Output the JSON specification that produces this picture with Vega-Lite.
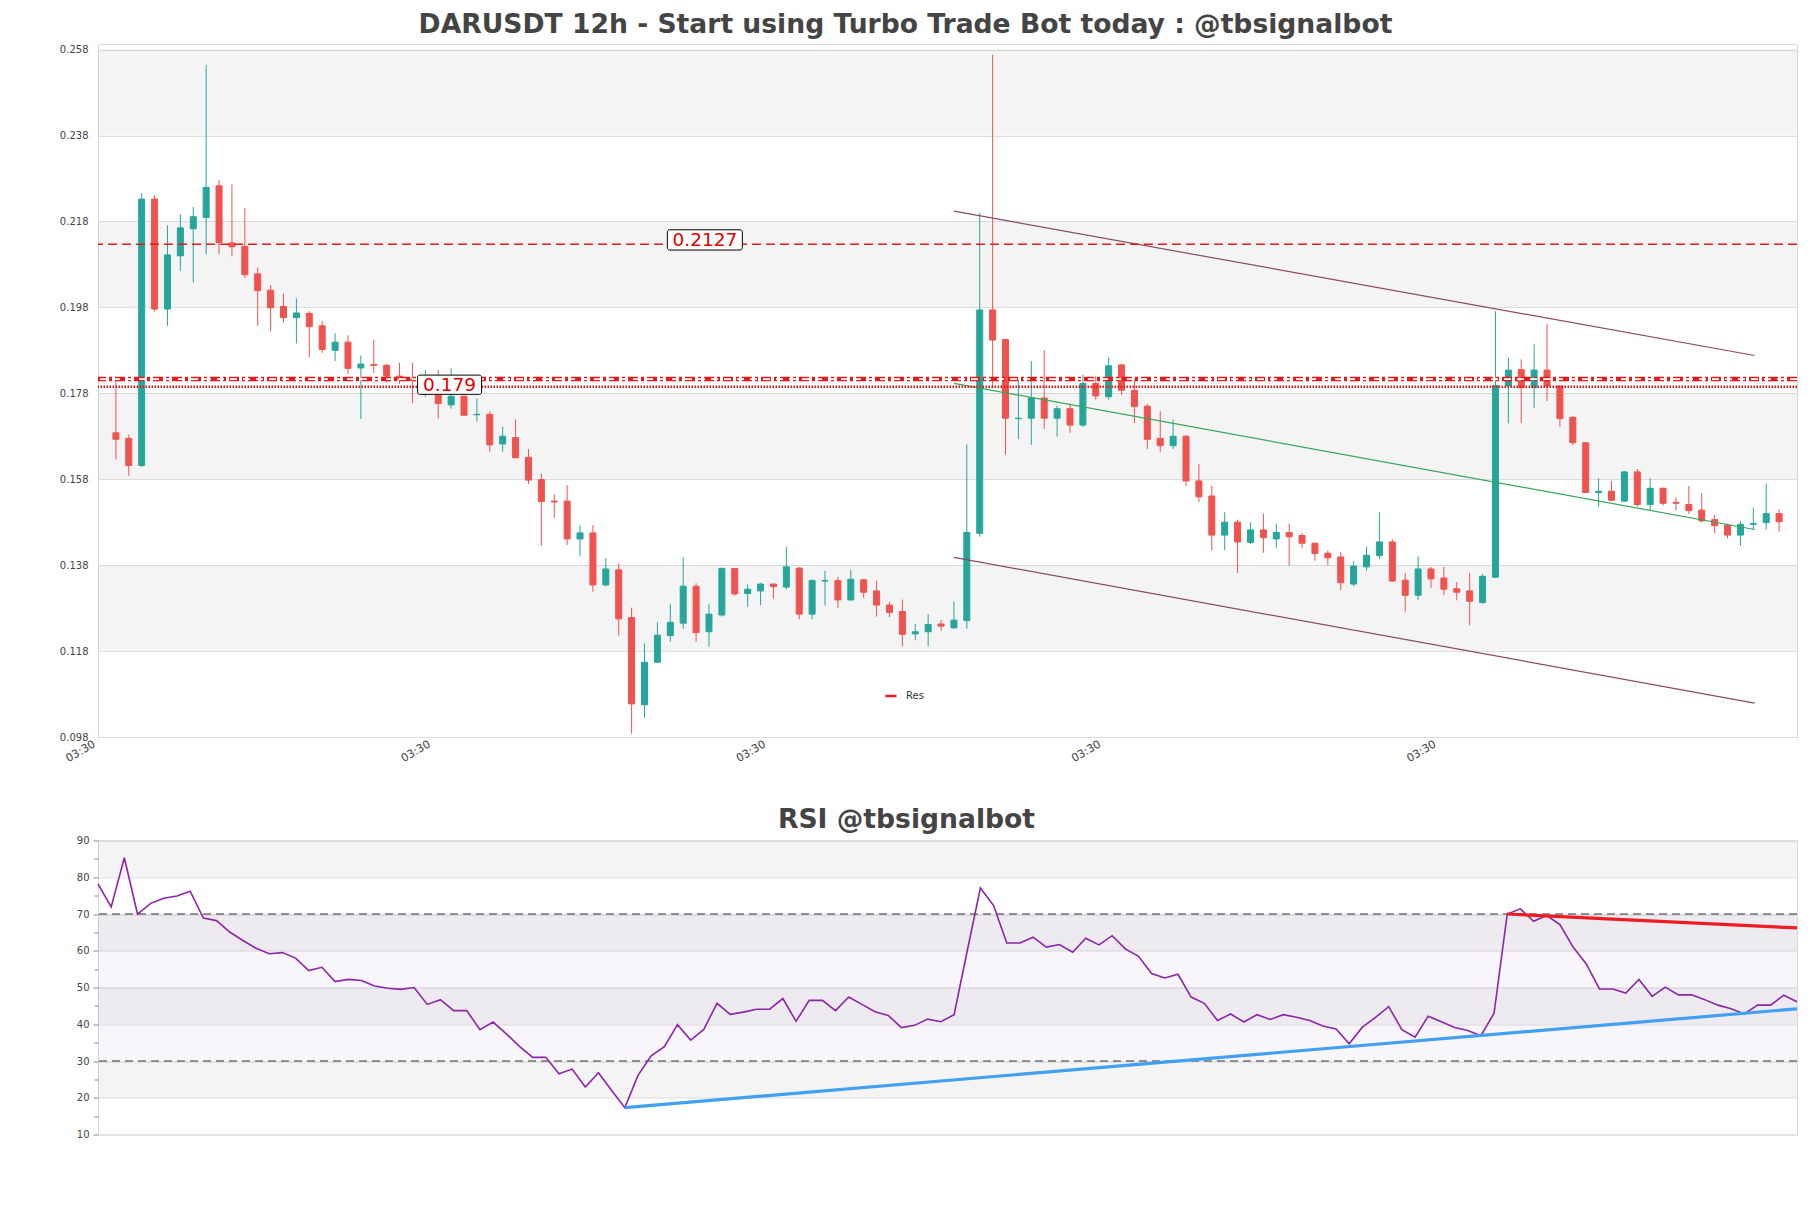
{
  "$schema": "https://vega.github.io/schema/vega-lite/v6.json",
  "padding": {"left": 58, "top": 11, "right": 15, "bottom": 10},
  "background": "white",
  "title": {"text": "DARUSDT 12h - Start using Turbo Trade Bot today : @tbsignalbot", "font": "DejaVu Sans", "fontSize": 26.6, "fontWeight": "bold", "color": "#444444", "anchor": "middle", "frame": "group", "offset": 5.4, "dx": -42},
  "config": {
    "view": {"stroke": "#d9d9d9", "strokeWidth": 1},
    "axis": {"labelFont": "DejaVu Sans", "labelColor": "#444444", "labelFontSize": 10, "domain": false, "gridColor": "#dddddd", "gridWidth": 1},
    "legend": {"labelFont": "DejaVu Sans"}
  },
  "spacing": 41.5,
  "datasets": {
    "candles": [
      {"i":0,"o":0.1688,"h":0.1812,"l":0.1626,"c":0.1673},
      {"i":1,"o":0.1675,"h":0.1684,"l":0.1588,"c":0.1612},
      {"i":2,"o":0.1612,"h":0.2246,"l":0.1608,"c":0.2232},
      {"i":3,"o":0.2232,"h":0.2241,"l":0.1970,"c":0.1976},
      {"i":4,"o":0.1976,"h":0.2171,"l":0.1937,"c":0.2102},
      {"i":5,"o":0.2100,"h":0.2197,"l":0.2065,"c":0.2165},
      {"i":6,"o":0.2163,"h":0.2214,"l":0.2038,"c":0.2191},
      {"i":7,"o":0.2189,"h":0.2544,"l":0.2104,"c":0.2259},
      {"i":8,"o":0.2263,"h":0.2276,"l":0.2104,"c":0.2131},
      {"i":9,"o":0.2130,"h":0.2266,"l":0.2099,"c":0.2121},
      {"i":10,"o":0.2122,"h":0.2211,"l":0.2049,"c":0.2056},
      {"i":11,"o":0.2058,"h":0.2073,"l":0.1937,"c":0.2019},
      {"i":12,"o":0.2020,"h":0.2032,"l":0.1924,"c":0.1979},
      {"i":13,"o":0.1982,"h":0.2012,"l":0.1945,"c":0.1956},
      {"i":14,"o":0.1956,"h":0.2001,"l":0.1896,"c":0.1967},
      {"i":15,"o":0.1966,"h":0.1971,"l":0.1864,"c":0.1935},
      {"i":16,"o":0.1937,"h":0.1948,"l":0.1874,"c":0.1882},
      {"i":17,"o":0.1880,"h":0.1920,"l":0.1855,"c":0.1899},
      {"i":18,"o":0.1899,"h":0.1915,"l":0.1825,"c":0.1838},
      {"i":19,"o":0.1839,"h":0.1868,"l":0.1720,"c":0.1848},
      {"i":20,"o":0.1847,"h":0.1905,"l":0.1827,"c":0.1845},
      {"i":21,"o":0.1845,"h":0.1848,"l":0.1805,"c":0.1820},
      {"i":22,"o":0.1820,"h":0.1851,"l":0.1802,"c":0.1813},
      {"i":23,"o":0.1813,"h":0.1851,"l":0.1757,"c":0.1810},
      {"i":24,"o":0.1800,"h":0.1834,"l":0.1772,"c":0.1812},
      {"i":25,"o":0.1776,"h":0.1834,"l":0.1721,"c":0.1756},
      {"i":26,"o":0.1753,"h":0.1838,"l":0.1744,"c":0.1773},
      {"i":27,"o":0.1773,"h":0.1775,"l":0.1728,"c":0.1729},
      {"i":28,"o":0.1730,"h":0.1768,"l":0.1714,"c":0.1731},
      {"i":29,"o":0.1731,"h":0.1738,"l":0.1644,"c":0.1660},
      {"i":30,"o":0.1662,"h":0.1702,"l":0.1644,"c":0.1680},
      {"i":31,"o":0.1677,"h":0.1719,"l":0.1629,"c":0.1630},
      {"i":32,"o":0.1631,"h":0.1650,"l":0.1569,"c":0.1578},
      {"i":33,"o":0.1579,"h":0.1593,"l":0.1425,"c":0.1528},
      {"i":34,"o":0.1529,"h":0.1545,"l":0.1490,"c":0.1527},
      {"i":35,"o":0.1529,"h":0.1566,"l":0.1427,"c":0.1441},
      {"i":36,"o":0.1441,"h":0.1473,"l":0.1402,"c":0.1455},
      {"i":37,"o":0.1455,"h":0.1473,"l":0.1318,"c":0.1334},
      {"i":38,"o":0.1334,"h":0.1396,"l":0.1330,"c":0.1371},
      {"i":39,"o":0.1369,"h":0.1384,"l":0.1216,"c":0.1255},
      {"i":40,"o":0.1258,"h":0.1281,"l":0.0988,"c":0.1057},
      {"i":41,"o":0.1055,"h":0.1198,"l":0.1025,"c":0.1154},
      {"i":42,"o":0.1154,"h":0.1247,"l":0.1153,"c":0.1217},
      {"i":43,"o":0.1216,"h":0.1289,"l":0.1202,"c":0.1247},
      {"i":44,"o":0.1245,"h":0.1398,"l":0.1232,"c":0.1331},
      {"i":45,"o":0.1331,"h":0.1338,"l":0.1202,"c":0.1223},
      {"i":46,"o":0.1225,"h":0.1290,"l":0.1190,"c":0.1266},
      {"i":47,"o":0.1264,"h":0.1375,"l":0.1260,"c":0.1372},
      {"i":48,"o":0.1372,"h":0.1373,"l":0.1309,"c":0.1313},
      {"i":49,"o":0.1314,"h":0.1335,"l":0.1283,"c":0.1324},
      {"i":50,"o":0.1320,"h":0.1339,"l":0.1287,"c":0.1336},
      {"i":51,"o":0.1336,"h":0.1337,"l":0.1302,"c":0.1330},
      {"i":52,"o":0.1329,"h":0.1423,"l":0.1324,"c":0.1376},
      {"i":53,"o":0.1373,"h":0.1375,"l":0.1254,"c":0.1266},
      {"i":54,"o":0.1266,"h":0.1347,"l":0.1254,"c":0.1344},
      {"i":55,"o":0.1343,"h":0.1367,"l":0.1286,"c":0.1344},
      {"i":56,"o":0.1344,"h":0.1353,"l":0.1281,"c":0.1299},
      {"i":57,"o":0.1299,"h":0.1369,"l":0.1297,"c":0.1347},
      {"i":58,"o":0.1346,"h":0.1347,"l":0.1304,"c":0.1317},
      {"i":59,"o":0.1320,"h":0.1344,"l":0.1260,"c":0.1287},
      {"i":60,"o":0.1287,"h":0.1295,"l":0.1259,"c":0.1270},
      {"i":61,"o":0.1272,"h":0.1300,"l":0.1191,"c":0.1219},
      {"i":62,"o":0.1220,"h":0.1243,"l":0.1205,"c":0.1225},
      {"i":63,"o":0.1225,"h":0.1266,"l":0.1191,"c":0.1242},
      {"i":64,"o":0.1243,"h":0.1252,"l":0.1227,"c":0.1238},
      {"i":65,"o":0.1234,"h":0.1295,"l":0.1232,"c":0.1252},
      {"i":66,"o":0.1251,"h":0.1661,"l":0.1232,"c":0.1456},
      {"i":67,"o":0.1454,"h":0.2200,"l":0.1446,"c":0.1974},
      {"i":68,"o":0.1974,"h":0.2568,"l":0.1792,"c":0.1904},
      {"i":69,"o":0.1905,"h":0.1906,"l":0.1637,"c":0.1722},
      {"i":70,"o":0.1721,"h":0.1812,"l":0.1673,"c":0.1722},
      {"i":71,"o":0.1722,"h":0.1855,"l":0.1660,"c":0.1769},
      {"i":72,"o":0.1769,"h":0.1880,"l":0.1697,"c":0.1722},
      {"i":73,"o":0.1722,"h":0.1751,"l":0.1679,"c":0.1744},
      {"i":74,"o":0.1744,"h":0.1756,"l":0.1688,"c":0.1706},
      {"i":75,"o":0.1706,"h":0.1823,"l":0.1702,"c":0.1803},
      {"i":76,"o":0.1803,"h":0.1821,"l":0.1765,"c":0.1774},
      {"i":77,"o":0.1772,"h":0.1864,"l":0.1765,"c":0.1844},
      {"i":78,"o":0.1846,"h":0.1848,"l":0.1776,"c":0.1787},
      {"i":79,"o":0.1787,"h":0.1812,"l":0.1711,"c":0.1749},
      {"i":80,"o":0.1750,"h":0.1755,"l":0.1650,"c":0.1673},
      {"i":81,"o":0.1675,"h":0.1738,"l":0.1644,"c":0.1658},
      {"i":82,"o":0.1658,"h":0.1719,"l":0.1650,"c":0.1680},
      {"i":83,"o":0.1680,"h":0.1683,"l":0.1564,"c":0.1576},
      {"i":84,"o":0.1576,"h":0.1615,"l":0.1527,"c":0.1539},
      {"i":85,"o":0.1541,"h":0.1565,"l":0.1414,"c":0.1450},
      {"i":86,"o":0.1450,"h":0.1503,"l":0.1415,"c":0.1480},
      {"i":87,"o":0.1480,"h":0.1486,"l":0.1362,"c":0.1434},
      {"i":88,"o":0.1433,"h":0.1480,"l":0.1429,"c":0.1462},
      {"i":89,"o":0.1462,"h":0.1500,"l":0.1409,"c":0.1444},
      {"i":90,"o":0.1441,"h":0.1476,"l":0.1420,"c":0.1456},
      {"i":91,"o":0.1456,"h":0.1477,"l":0.1379,"c":0.1446},
      {"i":92,"o":0.1449,"h":0.1455,"l":0.1420,"c":0.1431},
      {"i":93,"o":0.1431,"h":0.1433,"l":0.1390,"c":0.1407},
      {"i":94,"o":0.1408,"h":0.1414,"l":0.1380,"c":0.1397},
      {"i":95,"o":0.1399,"h":0.1410,"l":0.1322,"c":0.1339},
      {"i":96,"o":0.1336,"h":0.1389,"l":0.1331,"c":0.1378},
      {"i":97,"o":0.1376,"h":0.1423,"l":0.1367,"c":0.1403},
      {"i":98,"o":0.1402,"h":0.1503,"l":0.1394,"c":0.1434},
      {"i":99,"o":0.1434,"h":0.1440,"l":0.1341,"c":0.1343},
      {"i":100,"o":0.1345,"h":0.1362,"l":0.1272,"c":0.1310},
      {"i":101,"o":0.1310,"h":0.1400,"l":0.1299,"c":0.1371},
      {"i":102,"o":0.1371,"h":0.1376,"l":0.1327,"c":0.1348},
      {"i":103,"o":0.1350,"h":0.1376,"l":0.1310,"c":0.1324},
      {"i":104,"o":0.1325,"h":0.1341,"l":0.1298,"c":0.1317},
      {"i":105,"o":0.1320,"h":0.1362,"l":0.1240,"c":0.1296},
      {"i":106,"o":0.1293,"h":0.1359,"l":0.1290,"c":0.1354},
      {"i":107,"o":0.1352,"h":0.1971,"l":0.1350,"c":0.1798},
      {"i":108,"o":0.1797,"h":0.1863,"l":0.1710,"c":0.1834},
      {"i":109,"o":0.1835,"h":0.1859,"l":0.1711,"c":0.1793},
      {"i":110,"o":0.1793,"h":0.1894,"l":0.1746,"c":0.1834},
      {"i":111,"o":0.1834,"h":0.1942,"l":0.1762,"c":0.1797},
      {"i":112,"o":0.1797,"h":0.1797,"l":0.1702,"c":0.1721},
      {"i":113,"o":0.1724,"h":0.1727,"l":0.1659,"c":0.1665},
      {"i":114,"o":0.1665,"h":0.1665,"l":0.1549,"c":0.1549},
      {"i":115,"o":0.1549,"h":0.1582,"l":0.1516,"c":0.1552},
      {"i":116,"o":0.1552,"h":0.1576,"l":0.1529,"c":0.1531},
      {"i":117,"o":0.1529,"h":0.1599,"l":0.1527,"c":0.1597},
      {"i":118,"o":0.1597,"h":0.1604,"l":0.1516,"c":0.1521},
      {"i":119,"o":0.1521,"h":0.1582,"l":0.1506,"c":0.1559},
      {"i":120,"o":0.1559,"h":0.1560,"l":0.1519,"c":0.1524},
      {"i":121,"o":0.1526,"h":0.1538,"l":0.1507,"c":0.1524},
      {"i":122,"o":0.1521,"h":0.1564,"l":0.1499,"c":0.1507},
      {"i":123,"o":0.1508,"h":0.1548,"l":0.1479,"c":0.1483},
      {"i":124,"o":0.1486,"h":0.1497,"l":0.1454,"c":0.1472},
      {"i":125,"o":0.1473,"h":0.1477,"l":0.1442,"c":0.1450},
      {"i":126,"o":0.1450,"h":0.1483,"l":0.1425,"c":0.1475},
      {"i":127,"o":0.1475,"h":0.1514,"l":0.1463,"c":0.1477},
      {"i":128,"o":0.1479,"h":0.1570,"l":0.1463,"c":0.1500},
      {"i":129,"o":0.1500,"h":0.1510,"l":0.1458,"c":0.1481}
    ],
    "rsi": [
      {"j":0,"v":78.2},{"j":1,"v":71.9},{"j":2,"v":85.3},{"j":3,"v":70.0},{"j":4,"v":72.9},
      {"j":5,"v":74.3},{"j":6,"v":74.9},{"j":7,"v":76.2},{"j":8,"v":68.9},{"j":9,"v":68.2},
      {"j":10,"v":65.1},{"j":11,"v":62.8},{"j":12,"v":60.7},{"j":13,"v":59.2},{"j":14,"v":59.5},
      {"j":15,"v":58.0},{"j":16,"v":54.6},{"j":17,"v":55.5},{"j":18,"v":51.6},{"j":19,"v":52.2},
      {"j":20,"v":51.9},{"j":21,"v":50.4},{"j":22,"v":49.8},{"j":23,"v":49.5},{"j":24,"v":50.0},
      {"j":25,"v":45.4},{"j":26,"v":46.7},{"j":27,"v":43.7},{"j":28,"v":43.7},{"j":29,"v":38.5},
      {"j":30,"v":40.6},{"j":31,"v":37.4},{"j":32,"v":34.0},{"j":33,"v":31.0},{"j":34,"v":31.0},
      {"j":35,"v":26.5},{"j":36,"v":27.8},{"j":37,"v":22.9},{"j":38,"v":26.8},{"j":39,"v":22.0},
      {"j":40,"v":17.3},{"j":41,"v":26.1},{"j":42,"v":31.4},{"j":43,"v":33.9},{"j":44,"v":39.9},
      {"j":45,"v":35.7},{"j":46,"v":38.6},{"j":47,"v":45.7},{"j":48,"v":42.7},{"j":49,"v":43.3},
      {"j":50,"v":44.1},{"j":51,"v":44.1},{"j":52,"v":47.0},{"j":53,"v":40.8},{"j":54,"v":46.5},
      {"j":55,"v":46.5},{"j":56,"v":43.7},{"j":57,"v":47.4},{"j":58,"v":45.4},{"j":59,"v":43.4},
      {"j":60,"v":42.4},{"j":61,"v":39.1},{"j":62,"v":39.7},{"j":63,"v":41.4},{"j":64,"v":40.7},
      {"j":65,"v":42.6},{"j":66,"v":60.0},{"j":67,"v":77.1},{"j":68,"v":72.3},{"j":69,"v":62.1},
      {"j":70,"v":62.1},{"j":71,"v":63.7},{"j":72,"v":61.0},{"j":73,"v":61.7},{"j":74,"v":59.6},
      {"j":75,"v":63.4},{"j":76,"v":61.6},{"j":77,"v":64.1},{"j":78,"v":60.5},{"j":79,"v":58.5},
      {"j":80,"v":53.8},{"j":81,"v":52.6},{"j":82,"v":53.6},{"j":83,"v":47.4},{"j":84,"v":45.7},
      {"j":85,"v":41.0},{"j":86,"v":42.8},{"j":87,"v":40.6},{"j":88,"v":42.6},{"j":89,"v":41.3},
      {"j":90,"v":42.6},{"j":91,"v":41.9},{"j":92,"v":41.0},{"j":93,"v":39.5},{"j":94,"v":38.7},
      {"j":95,"v":34.7},{"j":96,"v":39.2},{"j":97,"v":41.9},{"j":98,"v":44.8},{"j":99,"v":38.5},
      {"j":100,"v":36.5},{"j":101,"v":42.2},{"j":102,"v":40.7},{"j":103,"v":39.1},{"j":104,"v":38.3},
      {"j":105,"v":36.9},{"j":106,"v":43.0},{"j":107,"v":70.0},{"j":108,"v":71.4},{"j":109,"v":68.0},
      {"j":110,"v":69.6},{"j":111,"v":67.1},{"j":112,"v":61.0},{"j":113,"v":56.4},{"j":114,"v":49.6},
      {"j":115,"v":49.6},{"j":116,"v":48.5},{"j":117,"v":52.2},{"j":118,"v":47.6},{"j":119,"v":50.1},
      {"j":120,"v":48.0},{"j":121,"v":48.0},{"j":122,"v":46.7},{"j":123,"v":45.2},{"j":124,"v":44.2},
      {"j":125,"v":42.8},{"j":126,"v":45.2},{"j":127,"v":45.2},{"j":128,"v":47.9},{"j":129,"v":46.1}
    ]
  },
  "vconcat": [
    {
      "width": 1699,
      "height": 693,
      "layer": [
        {
          "data": {"values": [{"lo":0.238,"hi":0.258},{"lo":0.198,"hi":0.218},{"lo":0.158,"hi":0.178},{"lo":0.118,"hi":0.138}]},
          "mark": {"type": "rect", "fill": "#000000", "fillOpacity": 0.045},
          "encoding": {
            "y": {"field": "lo", "type": "quantitative", "title": null,
                  "scale": {"domain": [0.098, 0.2593], "nice": false, "zero": false},
                  "axis": {"values": [0.098,0.118,0.138,0.158,0.178,0.198,0.218,0.238,0.258], "format": ".3f", "grid": true, "ticks": false, "labelPadding": 10, "labelFontSize": 10}},
            "y2": {"field": "hi"}
          }
        },
        {
          "data": {"name": "candles"},
          "mark": {"type": "rule", "strokeWidth": 1},
          "encoding": {
            "x": {"field": "i", "type": "quantitative", "title": null,
                  "scale": {"domain": [-1, 130], "nice": false, "zero": false},
                  "axis": {"values": [-1, 25, 51, 77, 103], "labelExpr": "'03:30'", "labelAngle": -30, "labelAlign": "right", "labelBaseline": "top", "labelFontSize": 11, "labelOffset": -12, "ticks": false, "grid": false, "labelPadding": 1}},
            "y": {"field": "l", "type": "quantitative", "title": null},
            "y2": {"field": "h"},
            "color": {"condition": {"test": "datum.c >= datum.o", "value": "#26a69a"}, "value": "#ef5350"}
          }
        },
        {
          "data": {"name": "candles"},
          "mark": {"type": "bar", "width": 6, "strokeWidth": 1},
          "encoding": {
            "x": {"field": "i", "type": "quantitative", "title": null},
            "y": {"field": "o", "type": "quantitative", "title": null},
            "y2": {"field": "c"},
            "color": {"condition": {"test": "datum.c >= datum.o", "value": "#26a69a"}, "value": "#ef5350"},
            "stroke": {"condition": {"test": "datum.c >= datum.o", "value": "#26a69a"}, "value": "#ef5350"}
          }
        },
        {
          "data": {"values": [{"x":65,"y":0.2204,"g":"upper"},{"x":127.1,"y":0.1868,"g":"upper"},{"x":65,"y":0.1398,"g":"lower"},{"x":127.1,"y":0.1059,"g":"lower"}]},
          "mark": {"type": "line", "color": "#8b4a62", "strokeWidth": 1.2},
          "encoding": {
            "x": {"field": "x", "type": "quantitative", "title": null},
            "y": {"field": "y", "type": "quantitative", "title": null},
            "detail": {"field": "g"}
          }
        },
        {
          "data": {"values": [{"x":65,"y":0.1803},{"x":127.1,"y":0.1463}]},
          "mark": {"type": "line", "color": "#36a85a", "strokeWidth": 1.2},
          "encoding": {
            "x": {"field": "x", "type": "quantitative", "title": null},
            "y": {"field": "y", "type": "quantitative", "title": null}
          }
        },
        {
          "data": {"values": [{"level": 0.2127}]},
          "mark": {"type": "rule", "strokeWidth": 1.5, "strokeDash": [9, 5]},
          "encoding": {
            "y": {"field": "level", "type": "quantitative", "title": null},
            "color": {"datum": "Res", "type": "nominal", "scale": {"domain": ["Res"], "range": ["#e41a1c"]},
                      "legend": {"orient": "none", "legendX": 786, "legendY": 645, "title": null, "symbolType": "stroke", "symbolStrokeWidth": 2.5, "symbolSize": 120, "symbolDash": [1, 0], "labelOffset": 8, "labelFontSize": 10, "labelColor": "#333333"}}
          }
        },
        {
          "data": {"values": [{"level": 0.1813}]},
          "mark": {"type": "rule", "strokeWidth": 4.5, "strokeDash": [10, 3, 3, 3]},
          "encoding": {
            "y": {"field": "level", "type": "quantitative", "title": null},
            "color": {"datum": "Res", "type": "nominal"}
          }
        },
        {
          "data": {"values": [{"level": 0.1813}]},
          "mark": {"type": "rule", "strokeWidth": 1.6, "color": "#ffffff", "strokeDash": [7, 6]},
          "encoding": {
            "y": {"field": "level", "type": "quantitative", "title": null}
          }
        },
        {
          "data": {"values": [{"level": 0.1795}]},
          "mark": {"type": "rule", "strokeWidth": 2.5, "strokeDash": [1.5, 1.5]},
          "encoding": {
            "y": {"field": "level", "type": "quantitative", "title": null},
            "color": {"datum": "Res", "type": "nominal"}
          }
        },
        {
          "data": {"values": [{"x": 45.68, "y": 0.2137, "label": "0.2127"}]},
          "mark": {"type": "point", "shape": "M-0.94,-0.27H0.94A0.06,0.06 0 0 1 1,-0.21V0.21A0.06,0.06 0 0 1 0.94,0.27H-0.94A0.06,0.06 0 0 1 -1,0.21V-0.21A0.06,0.06 0 0 1 -0.94,-0.27Z", "size": 5625, "filled": true, "fill": "white", "stroke": "black", "strokeWidth": 1, "opacity": 1},
          "encoding": {
            "x": {"field": "x", "type": "quantitative", "title": null},
            "y": {"field": "y", "type": "quantitative", "title": null}
          }
        },
        {
          "data": {"values": [{"x": 25.88, "y": 0.1800, "label": "0.179"}]},
          "mark": {"type": "point", "shape": "M-0.93,-0.3H0.93A0.07,0.07 0 0 1 1,-0.23V0.23A0.07,0.07 0 0 1 0.93,0.3H-0.93A0.07,0.07 0 0 1 -1,0.23V-0.23A0.07,0.07 0 0 1 -0.93,-0.3Z", "size": 4096, "filled": true, "fill": "white", "stroke": "black", "strokeWidth": 1, "opacity": 1},
          "encoding": {
            "x": {"field": "x", "type": "quantitative", "title": null},
            "y": {"field": "y", "type": "quantitative", "title": null}
          }
        },
        {
          "data": {"values": [{"x": 45.68, "y": 0.2137, "label": "0.2127"}, {"x": 25.88, "y": 0.1800, "label": "0.179"}]},
          "mark": {"type": "text", "font": "DejaVu Sans", "fontSize": 18.5, "color": "#e00000", "align": "center", "baseline": "middle"},
          "encoding": {
            "x": {"field": "x", "type": "quantitative", "title": null},
            "y": {"field": "y", "type": "quantitative", "title": null},
            "text": {"field": "label"}
          }
        }
      ]
    },
    {
      "width": 1699,
      "height": 294,
      "title": {"text": "RSI @tbsignalbot", "font": "DejaVu Sans", "fontSize": 26.6, "fontWeight": "bold", "color": "#444444", "anchor": "middle", "dx": -41, "offset": 2},
      "resolve": {"axis": {"y": "independent"}},
      "layer": [
        {
          "data": {"values": [{"lo":80,"hi":90},{"lo":60,"hi":70},{"lo":40,"hi":50},{"lo":20,"hi":30}]},
          "mark": {"type": "rect", "fill": "#000000", "fillOpacity": 0.045},
          "encoding": {
            "y": {"field": "lo", "type": "quantitative", "title": null,
                  "scale": {"domain": [10, 90], "nice": false, "zero": false},
                  "axis": {"values": [10,20,30,40,50,60,70,80,90], "grid": true, "ticks": true, "tickSize": 5, "tickColor": "#888888", "labelPadding": 4, "labelFontSize": 10}},
            "y2": {"field": "hi"}
          }
        },
        {
          "data": {"values": [{"lo":30,"hi":70}]},
          "mark": {"type": "rect", "fill": "#8e6aa8", "fillOpacity": 0.06},
          "encoding": {
            "y": {"field": "lo", "type": "quantitative", "title": null,
                  "axis": {"values": [15,25,35,45,55,65,75,85], "labels": false, "grid": false, "ticks": true, "tickSize": 4, "tickColor": "#888888", "orient": "left"}},
            "y2": {"field": "hi"}
          }
        },
        {
          "data": {"values": [{"level": 70}, {"level": 30}]},
          "mark": {"type": "rule", "color": "#333333", "strokeWidth": 1.2, "strokeDash": [8, 5]},
          "encoding": {
            "y": {"field": "level", "type": "quantitative", "title": null, "axis": null}
          }
        },
        {
          "data": {"name": "rsi"},
          "mark": {"type": "line", "color": "#8e24aa", "strokeWidth": 1.6},
          "encoding": {
            "x": {"field": "j", "type": "quantitative", "title": null, "scale": {"domain": [0, 129], "nice": false, "zero": false}, "axis": null},
            "y": {"field": "v", "type": "quantitative", "title": null, "axis": null}
          }
        },
        {
          "data": {"values": [{"j": 40, "v": 17.3}, {"j": 129, "v": 44.2}]},
          "mark": {"type": "line", "color": "#42a0f0", "strokeWidth": 3.2},
          "encoding": {
            "x": {"field": "j", "type": "quantitative", "title": null},
            "y": {"field": "v", "type": "quantitative", "title": null, "axis": null}
          }
        },
        {
          "data": {"values": [{"j": 107, "v": 70.0}, {"j": 129, "v": 66.2}]},
          "mark": {"type": "line", "color": "#f01c24", "strokeWidth": 3.2},
          "encoding": {
            "x": {"field": "j", "type": "quantitative", "title": null},
            "y": {"field": "v", "type": "quantitative", "title": null, "axis": null}
          }
        }
      ]
    }
  ]
}
